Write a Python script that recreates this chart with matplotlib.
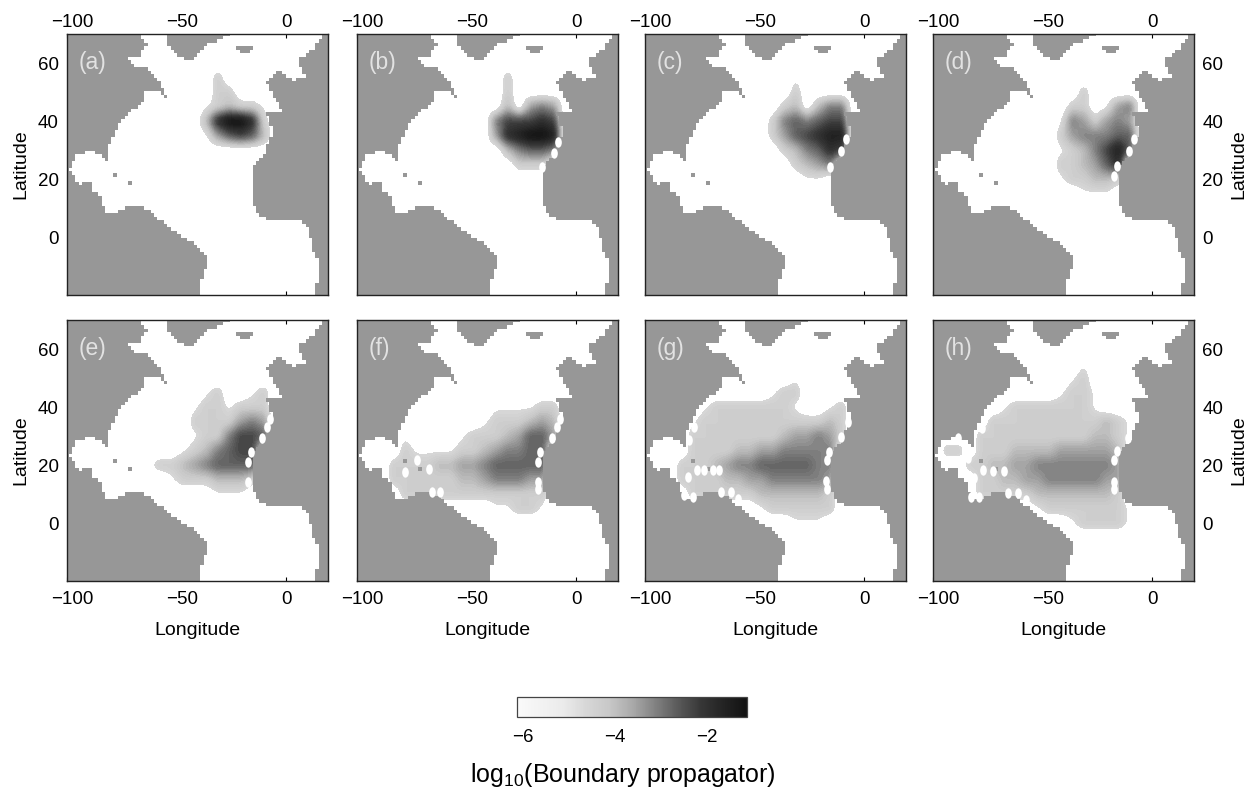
import numpy as np
import matplotlib
matplotlib.use('Agg')
import matplotlib.pyplot as plt
from matplotlib.colors import LinearSegmentedColormap, ListedColormap, Normalize
from matplotlib.cm import ScalarMappable
from matplotlib.markers import MarkerStyle
from matplotlib.path import Path
from matplotlib.transforms import Affine2D, ScaledTranslation

plt.rcParams['font.family'] = ['Liberation Sans', 'DejaVu Sans']
plt.rcParams['mathtext.default'] = 'regular'

W, H = 1250, 790

# ocean outline, lon/lat
ocean_lon = [-67.6, -54, -54, -50.2, -44.8, -42.6, -37.2, -27.4, -24.3, 17.5, 12.9, 6.1, 6.1, 8.4, 3, -3.8, -9.1,
             -1.5, -9.1, -6.1, -9.1, -10.6, -15.2, -16, -12.9, -7.6, 6.1, 10.6, 11.4, 15.2, 12.9,
             -38.8, -38.8, -35.7, -41, -51.7, -59.3, -63.8, -71.4, -77.5, -82.8, -84.3, -88.9, -89.7, -94.2,
             -98.8, -95.7, -88.1, -81.3, -80.5, -76, -70.7, -65.3, -64.6, -58.5, -54, -59.3, -63.8, -67.6,
             -72.2, -66.9, -63.8]
ocean_lat = [71, 71, 66.2, 62.8, 60.5, 61, 66.2, 69.1, 71, 71, 65, 61.6, 59.8, 55.3, 54.1, 57.6, 53,
             43.2, 42.6, 35.7, 31.1, 27.7, 24.3, 12.8, 8.2, 5.3, 5.9, 2.4, -3.3, -9.1, -21,
             -21, -16, -6.8, -2.8, 2.4, 7, 9.9, 11, 8.2, 7.6, 13.9, 16.2, 20.2, 17.9,
             23.1, 28.3, 30, 25.9, 32.2, 39.2, 43.7, 46.1, 50.1, 50.1, 47.1, 55.3, 58.2, 58.2,
             61.6, 62.8, 66.2]
iceland_lon = [-24, -19, -15, -16, -19, -22]
iceland_lat = [65.6, 65.8, 65.4, 64.4, 63.5, 64.4]
island_lon = [-78.3, -71.4]
island_lat = [21.4, 18.7]

grid_lon = np.arange(-95, 0, 5)
grid_lat = np.arange(60, -10, -5)
lon_stretch = 1.04  # table columns are really a bit over 5 deg apart
level_values = [-4.6, -4.2, -3.8, -3.4, -3.0, -2.6, -2.2, -1.8, -1.4, -1.0]

# log10 propagator, lat: (first lon, one level digit per 5 deg column), '.' = nothing
panel_a = {55: (-30, "1"), 50: (-30, "11"), 45: (-35, "012110"), 40: (-35, "279971"), 35: (-35, "035652")}
panel_b = {55: (-30, "1"), 50: (-30, "1"), 45: (-30, "2.343"), 40: (-35, "466676"), 35: (-35, "378998"),
           30: (-30, "24554"), 25: (-25, "111")}
panel_c = {55: (-30, "0"), 50: (-30, "1"), 45: (-35, "12.244"), 40: (-40, "1454566"), 35: (-40, "1356788"),
           30: (-35, "124576"), 25: (-30, "1234"), 20: (-25, "00")}
panel_d = {50: (-30, "1"), 45: (-35, "11.034"), 40: (-40, "0431343"), 35: (-40, "1344455"), 30: (-40, "0124685"),
           25: (-40, "112357"), 20: (-40, "011221"), 15: (-30, "000")}
panel_e = {45: (-35, "01..01"), 40: (-40, "0110111"), 35: (-40, "1111343"), 30: (-40, "0114665"),
           25: (-45, "0124566"), 20: (-60, "0112345555"), 15: (-50, "01112221"), 10: (-30, "000")}
panel_f = {40: (-35, "000011"), 35: (-40, "0111232"), 30: (-75, "0....011123553"), 25: (-75, "1000011234455"),
           20: (-80, "11112233455555"), 15: (-80, "11111122344433"), 10: (-75, "1111111111111"),
           5: (-35, "00110")}
panel_g = {50: (-30, "0"), 45: (-40, "011"), 40: (-70, "011111110..01"), 35: (-75, "01111111111121"),
           30: (-75, "11111111233431"), 25: (-75, "1111223344444"), 20: (-80, "11123445555544"),
           15: (-80, "11112233444443"), 10: (-75, "1111112222221"), 5: (-45, "0111111"), 0: (-30, "000")}
panel_h = {55: (-30, "0"), 50: (-35, "01"), 45: (-40, "0110"), 40: (-65, "011111110"), 35: (-70, "1111111111210"),
           30: (-75, "11111111112210"), 25: (-90, "11.1112222333332"), 20: (-80, "11223344444443"),
           15: (-75, "1122334444433"), 10: (-75, "1111122222221"), 5: (-50, "011111110"), 0: (-35, "011110")}
panels = [panel_a, panel_b, panel_c, panel_d, panel_e, panel_f, panel_g, panel_h]
letters = ['(a)', '(b)', '(c)', '(d)', '(e)', '(f)', '(g)', '(h)']

# white cells along the coast
spots_lon = [[],
             [-8.2, -10.2, -15.5],
             [-8.4, -10.6, -15.8],
             [-8.4, -10.6, -16.3, -17.5],
             [-7.4, -9, -10.9, -16.1, -17.3, -17.3],
             [-7.3, -8.8, -11.1, -16.4, -17.5, -17.5, -17.5, -65.8, -62, -78, -72.6, -67.3],
             [-7.6, -10.6, -16, -17, -17.5, -17, -77.5, -79.8, -80.5, -82, -78.3, -65.3, -60.8, -57.4,
              -76.3, -73, -69.2, -66.1],
             [-10.9, -16.1, -17.3, -17.3, -17.3, -82.7, -78.9, -66, -61.4, -57.6, -77.4, -72.8, -67.5, -81.2,
              -77.8, -74.8, -84.2, -88.8]]
spots_lat = [[],
             [32.9, 28.9, 24.3],
             [33.9, 29.6, 24.3],
             [33.9, 29.6, 24.6, 21.1],
             [35.7, 33.2, 29.2, 24.5, 21.1, 14.2],
             [35.7, 33.2, 29.2, 24.5, 21.1, 14.2, 11.6, 10.8, 10.8, 17.7, 21.7, 18.7],
             [34.8, 29.7, 24.5, 21.6, 14.5, 11.8, 33.1, 28.5, 15.9, 9.5, 9, 10.7, 10.7, 8.4,
              18.2, 18.2, 18.2, 18.2],
             [29.2, 24.9, 21.7, 14.3, 11.7, 9.1, 9.1, 10.2, 10.2, 7.9, 18.3, 18, 18, 15.4,
              32.8, 37.8, 22.4, 29.3]]

lon_ticks = [-100, -50, 0]
lat_ticks = [0, 20, 40, 60]
cbar_ticks = [-6, -4, -2]

panel_left = [67, 357, 645, 933]
panel_top = [34, 320]
panel_size = 261
land_color = '#979797'
label_size = 14
tick_size = 13.5

cmap = LinearSegmentedColormap.from_list('prop', [
    (0.0, '#fafafa'), (0.2, '#ebebeb'), (0.3, '#d7d7d7'), (0.4, '#c8c8c8'), (0.5, '#aaaaaa'),
    (0.6, '#828282'), (0.7, '#5a5a5a'), (0.8, '#373737'), (0.9, '#232323'), (1.0, '#121212')])
norm = Normalize(-6, -1)


def read_panel(panel):
    field = np.full((len(grid_lat), len(grid_lon)), -5.0)
    for lat, (start, codes) in panel.items():
        row = list(grid_lat).index(lat)
        col = list(grid_lon).index(start)
        for i, c in enumerate(codes):
            if c != '.':
                field[row, col + i] = level_values[int(c)]
    return field


def smooth_panel(field, fine_lon, fine_lat):
    # only rounds off the 5 deg table so the shapes are not polygons
    lat_up = grid_lat[::-1]
    rows = np.array([np.interp(fine_lon, grid_lon, r) for r in field[::-1]])
    fine = np.array([np.interp(fine_lat, lat_up, rows[:, j]) for j in range(rows.shape[1])]).T
    kernel = np.ones(3) / 3
    pad = np.pad(fine, 1, mode='edge')
    pad = np.apply_along_axis(lambda v: np.convolve(v, kernel, mode='same'), 0, pad)
    pad = np.apply_along_axis(lambda v: np.convolve(v, kernel, mode='same'), 1, pad)
    return pad[1:-1, 1:-1]


def land_mask():
    cell_lon = np.arange(-100.75, 20, 1.5)
    cell_lat = np.arange(-20.6, 71, 1.2)
    mx, my = np.meshgrid(cell_lon + 0.75, cell_lat + 0.6)
    pts = np.column_stack([mx.ravel(), my.ravel()])
    ocean = Path(np.column_stack([ocean_lon, ocean_lat])).contains_points(pts)
    iceland = Path(np.column_stack([iceland_lon, iceland_lat])).contains_points(pts)
    land = (~ocean | iceland).reshape(mx.shape)
    return cell_lon, cell_lat, np.ma.masked_where(~land, land.astype(float))


def nudge_labels(ticks, dx=4, dy1=-1.5, dy2=-3.5):
    # the figure centres the digits on the tick, the minus sign hangs out to the left
    for tick in ticks:
        for lab, dy in ((tick.label1, dy1), (tick.label2, dy2)):
            shift = dx if lab.get_text().startswith('\u2212') else 0
            lab.set_transform(lab.get_transform() + ScaledTranslation(shift / 72, dy / 72, fig.dpi_scale_trans))


fig = plt.figure(figsize=(W / 100, H / 100), dpi=100)
edge_lon, edge_lat, land = land_mask()
fine_lon = np.arange(-95, -4, 1.0)
fine_lat = np.arange(-5, 61, 1.0)
spot_marker = MarkerStyle('o', transform=Affine2D().scale(0.8, 1.25))

for n, panel in enumerate(panels):
    r, c = divmod(n, 4)
    ax = fig.add_axes([panel_left[c] / W, 1 - (panel_top[r] + panel_size) / H, panel_size / W, panel_size / H])
    field = smooth_panel(read_panel(panel), fine_lon, fine_lat)
    ax.contourf(fine_lon * lon_stretch, fine_lat, field, levels=np.linspace(-4.5, -0.8, 38),
                cmap=cmap, norm=norm, zorder=1)
    ax.pcolormesh(edge_lon, edge_lat, land[:-1, :-1], cmap=ListedColormap([land_color]), zorder=2, rasterized=True)
    ax.plot(island_lon, island_lat, 's', color=land_color, ms=2.5, mew=0, zorder=2)
    ax.plot(spots_lon[n], spots_lat[n], linestyle='none', marker=spot_marker, color='white', ms=6, mew=0, zorder=3)
    ax.set_xlim(-100, 19)
    ax.set_ylim(-20, 70)
    ax.set_xticks(lon_ticks)
    ax.set_xticklabels(['\u2212100', '\u221250', '0'])
    ax.set_yticks(lat_ticks)
    ax.tick_params(direction='in', length=3, width=0.8, labelsize=tick_size, top=True, right=True,
                   labeltop=r == 0, labelbottom=r == 1,
                   labelleft=c == 0, labelright=c == 3, pad=6)
    for s in ax.spines.values():
        s.set_linewidth(1.0)
        s.set_color('#222222')
        s.set_zorder(5)
    nudge_labels(ax.xaxis.get_major_ticks())
    ax.text(-94.5, 60, letters[n], color='#e2e2e2', fontsize=16.5, va='center', zorder=6)
    if r == 1:
        ax.set_xlabel('Longitude', fontsize=label_size, labelpad=10)
    if c == 0:
        ax.set_ylabel('Latitude', fontsize=label_size, labelpad=6)
    if c == 3:
        ax.yaxis.set_label_position('right')
        ax.set_ylabel('Latitude', fontsize=label_size, labelpad=5)

cax = fig.add_axes([517 / W, 1 - 717 / H, 230 / W, 20 / H])
cb = fig.colorbar(ScalarMappable(norm=norm, cmap=cmap), cax=cax, orientation='horizontal', ticks=cbar_ticks)
cb.ax.set_xticklabels(['\u22126', '\u22124', '\u22122'])
cb.ax.tick_params(length=0, labelsize=tick_size, pad=9)
cb.outline.set_linewidth(0.9)
cb.outline.set_edgecolor('#444444')
nudge_labels(cb.ax.xaxis.get_major_ticks(), dy1=0, dy2=0)
fig.text(623 / W, 1 - 775 / H, 'log$_{10}$(Boundary propagator)', fontsize=18, ha='center', va='center')

fig.savefig('out.png', dpi=100)
